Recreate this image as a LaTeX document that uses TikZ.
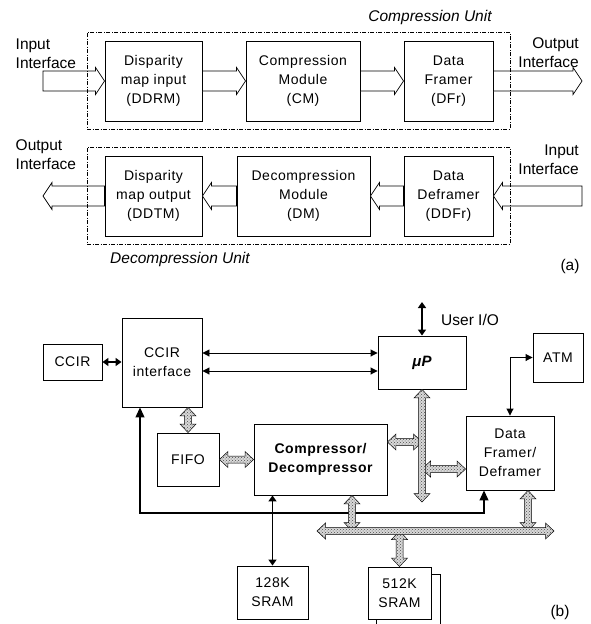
\documentclass[tikz,border=0pt]{standalone}
\usepackage{fontspec}
\setmainfont{Liberation Sans}
\newfontfamily\spacedfont[LetterSpace=4]{Liberation Sans}
\usetikzlibrary{arrows.meta,calc,patterns}
\newcommand{\boxfont}{\spacedfont\fontsize{14}{19}\selectfont}
\newcommand{\lblfont}{\fontsize{15.5}{19}\selectfont}
% single-headed block arrow: style, from, to, body half width, head half width, head length
\newcommand{\blockarrowone}[6]{%
  \draw[#1] let \p1=#2, \p2=#3, \n1={atan2(\y2-\y1,\x2-\x1)}, \n2={veclen(\x2-\x1,\y2-\y1)} in
  [shift={(\p1)}, rotate=\n1]
  (0,#4) -- ({\n2-#6},#4) -- ({\n2-#6},#5) -- (\n2,0) -- ({\n2-#6},-#5) -- ({\n2-#6},-#4) -- (0,-#4) -- cycle;}
% double-headed block arrow
\newcommand{\blockarrowtwo}[6]{%
  \draw[#1] let \p1=#2, \p2=#3, \n1={atan2(\y2-\y1,\x2-\x1)}, \n2={veclen(\x2-\x1,\y2-\y1)} in
  [shift={(\p1)}, rotate=\n1]
  (0,0) -- (#6,#5) -- (#6,#4) -- ({\n2-#6},#4) -- ({\n2-#6},#5) -- (\n2,0) -- ({\n2-#6},-#5) -- ({\n2-#6},-#4) -- (#6,-#4) -- (#6,-#5) -- cycle;}
\newcommand{\fatarrow}[2]{\blockarrowone{fat}{#1}{#2}{10}{13.5}{9}}
\newcommand{\busarrow}[2]{\blockarrowtwo{bus}{#1}{#2}{3.5}{8}{8.5}}
\begin{document}
\begin{tikzpicture}[x=1pt,y=-1pt,
  box/.style={draw, line width=0.9pt, fill=white, align=center, inner sep=0pt, font=\boxfont},
  lbl/.style={font=\lblfont, inner sep=0pt},
  unitbox/.style={draw, line width=0.6pt, dash pattern=on 4pt off 1.5pt on 1pt off 1.5pt, inner sep=0pt},
  fat/.style={draw, fill=white, line width=0.7pt},
  bus/.style={draw, fill=gray!30, line width=0.5pt, postaction={pattern=crosshatch dots, pattern color=gray!60!black}},
  thinarrow/.style={line width=0.9pt, >={Triangle[length=7pt,width=7pt]}, <->},
  thickarrow/.style={line width=1.8pt, >={Triangle[length=6pt,width=8pt]}, <->},
  fbarrow/.style={line width=1.1pt, >={Triangle[length=10pt,width=9pt]}, <->}]
\useasboundingbox (0,0) rectangle (590,624);

% ---------------- (a) ----------------
\node[box, minimum width=97pt, minimum height=80pt] (ddrm) at (153.5,81) {Disparity\\map input\\(DDRM)};
\node[box, minimum width=114pt, minimum height=80pt] (cm) at (303,81) {Compression\\Module\\(CM)};
\node[box, minimum width=89pt, minimum height=80pt] (dfra) at (448.5,81) {Data\\Framer\\(DFr)};
\node[box, minimum width=97pt, minimum height=80pt] (ddtm) at (153.5,196) {Disparity\\map output\\(DDTM)};
\node[box, minimum width=133pt, minimum height=80pt] (dm) at (303.5,196) {Decompression\\Module\\(DM)};
\node[box, minimum width=89pt, minimum height=80pt] (ddfr) at (448.5,196) {Data\\Deframer\\(DDFr)};

\coordinate (ina) at (43,81);
\coordinate (outa) at (582,81);
\coordinate (inb) at (582,196);
\coordinate (outb) at (43,196);
\fatarrow{(ina)}{(ddrm.west)}
\fatarrow{(ddrm.east)}{(cm.west)}
\fatarrow{(cm.east)}{(dfra.west)}
\fatarrow{(dfra.east)}{(outa)}
\fatarrow{(inb)}{(ddfr.east)}
\fatarrow{(ddfr.west)}{(dm.east)}
\fatarrow{(dm.west)}{(ddtm.east)}
\fatarrow{(ddtm.west)}{(outb)}

\node[unitbox, minimum width=423pt, minimum height=97pt] (cu) at (298.5,80.5) {};
\node[unitbox, minimum width=423pt, minimum height=97pt] (du) at (298.5,195.5) {};

\node[lbl, align=left, anchor=west] (lin1) at (15.5,53.5) {Input\\Interface};
\node[lbl, align=right, anchor=east] (lout1) at (579,53) {Output\\Interface};
\node[lbl, align=left, anchor=west] (lout2) at (15.5,154.5) {Output\\Interface};
\node[lbl, align=right, anchor=east] (lin2) at (579,159.5) {Input\\Interface};
\node[lbl, font=\lblfont\itshape] (cul) at (430,17) {Compression Unit};
\node[lbl, font=\lblfont\itshape] (dul) at (180,259) {Decompression Unit};
\node[lbl] (la) at (570,266) {(a)};

% ---------------- (b) ----------------
\node[box, minimum width=59pt, minimum height=36pt] (ccir) at (72.5,362) {CCIR};
\node[box, minimum width=80pt, minimum height=89pt] (ccirif) at (162,362.5) {CCIR\\interface};
\node[box, minimum width=88pt, minimum height=53pt, font=\bfseries\itshape\fontsize{15}{18}\selectfont] (up) at (422,362.5) {μP};
\node[box, minimum width=50pt, minimum height=49pt] (atm) at (558,357.5) {ATM};
\node[box, minimum width=88pt, minimum height=74pt] (dfr) at (510,453) {Data\\Framer/\\Deframer};
\node[box, minimum width=62pt, minimum height=53pt] (fifo) at (188,459.5) {FIFO};
\node[box, minimum width=133pt, minimum height=71pt, font=\boxfont\bfseries] (cd) at (320.5,459.5) {Compressor/\\Decompressor};
\node[box, minimum width=71pt, minimum height=53pt] (s128) at (272.5,592.5) {128K\\SRAM};
\coordinate (shb) at (376,630);
\coordinate (sht) at (440,574);
\draw[line width=0.9pt] (shb) |- (sht) -- (sht |- shb);
\node[box, minimum width=63pt, minimum height=52pt] (s512) at (399.5,593) {512K\\SRAM};

\node[lbl, anchor=west] (uiol) at (441,320) {User I/O};
\node[lbl] (lb) at (560,612) {(b)};

% thin connectors
\draw[thickarrow] (ccir.east) -- (ccir.east -| ccirif.west);
\coordinate (l1) at ([yshift=9.5pt]ccirif.east);
\coordinate (l2) at ([yshift=-8.5pt]ccirif.east);
\draw[thinarrow] (l1) -- (l1 -| up.west);
\draw[thinarrow] (l2) -- (l2 -| up.west);
\coordinate (uio) at (422,302);
\draw[thickarrow] (uio) -- (up.north);
\draw[thinarrow] (atm.west) -| (dfr.north);
\draw[thickarrow] (s128.north |- cd.south) -- (s128.north);
\coordinate (fbl) at (140,513);
\coordinate (fbr) at (484,513);
\draw[fbarrow] (fbl |- ccirif.south) -- (fbl) -- (fbr) -- (fbr |- dfr.south);

% bus arrows
\coordinate (vb) at (422,502);
\coordinate (cdb) at ([yshift=17.5pt]cd.east);
\coordinate (dfb) at ([yshift=-16pt]dfr.west);
\busarrow{(cdb)}{(cdb -| vb)}
\busarrow{(dfb -| vb)}{(dfb)}
\busarrow{(up.south)}{(vb)}
\busarrow{(fifo.east)}{(cd.west)}
\busarrow{(fifo.north |- ccirif.south)}{(fifo.north)}
\coordinate (hbl) at (317,531);
\coordinate (hbr) at (554,531);
\coordinate (cdv) at (352,0);
\coordinate (dfv) at (528,0);
\busarrow{(cdv |- cd.south)}{(cdv |- hbl)}
\busarrow{(dfv |- dfr.south)}{(dfv |- hbl)}
\busarrow{(s512.north |- hbl)}{(s512.north)}
\busarrow{(hbl)}{(hbr)}
\end{tikzpicture}
\end{document}
